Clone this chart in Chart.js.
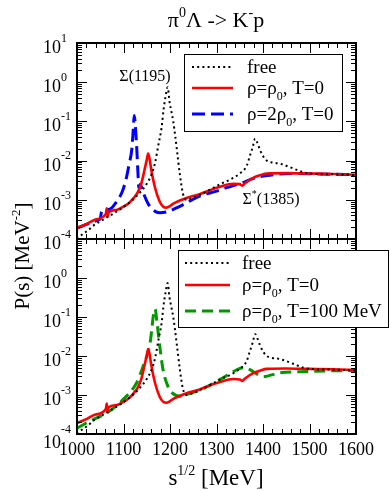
<!DOCTYPE html>
<html><head><meta charset="utf-8">
<script src="https://cdn.jsdelivr.net/npm/chart.js@4.4.1/dist/chart.umd.min.js"></script>
<style>
html,body{margin:0;padding:0;background:#fff;}
#wrap{position:relative;width:391px;height:491px;overflow:hidden;background:#fff;}
canvas{position:absolute;left:0;top:0;}
#probe{position:absolute;left:-500px;top:0;font-family:'Liberation Serif';}
</style></head><body>
<div id="wrap"><canvas id="c1" width="391" height="491"></canvas><canvas id="c2" width="391" height="491"></canvas></div>
<span id="probe">Σ ρ 1000</span>
<script>
// ---------- data ----------
const freeX = [1000,1013,1024,1034,1050,1077,1110,1135,1150,1161,1168,1175,1182,1186,1190,1195,1199,1203,1207,1211,1215,1221,1228,1236,1245,1265,1290,1308,1333,1350,1365,1372,1378,1383,1388,1394,1401,1408,1420,1437,1465,1487,1510,1550,1600];
const freeP = [1.0e-4,1.35e-4,1.66e-4,2.14e-4,2.82e-4,4.37e-4,7.94e-4,1.51e-3,2.57e-3,4.68e-3,8.91e-3,2.51e-2,7.08e-2,1.91e-1,3.98e-1,7.41e-1,3.16e-1,1.78e-1,1.0e-1,4.47e-2,1.82e-2,4.68e-3,1.41e-3,1.0e-3,1.07e-3,1.35e-3,1.91e-3,2.51e-3,3.47e-3,4.68e-3,7.41e-3,1.35e-2,2.24e-2,3.63e-2,2.82e-2,1.82e-2,1.26e-2,1.0e-2,8.91e-3,8.32e-3,6.31e-3,5.01e-3,4.57e-3,4.47e-3,4.27e-3];

const rhoX = [1000,1020,1040,1062,1064,1066,1068,1085,1099,1112,1122,1130,1138,1145,1150,1153,1156,1160,1168,1178,1185,1192,1200,1207,1230,1265,1307,1336,1350,1355,1362,1379,1395,1408,1450,1500,1550,1600];
const rhoP = [1.91e-4,2.40e-4,3.16e-4,4.37e-4,6.03e-4,3.72e-4,4.79e-4,5.50e-4,6.61e-4,8.32e-4,1.12e-3,1.51e-3,2.51e-3,5.62e-3,1.05e-2,1.51e-2,1.12e-2,5.62e-3,2.0e-3,8.91e-4,6.76e-4,6.31e-4,6.92e-4,7.94e-4,1.05e-3,1.41e-3,2.14e-3,2.57e-3,2.51e-3,2.29e-3,2.69e-3,3.63e-3,4.27e-3,4.68e-3,4.79e-3,4.68e-3,4.57e-3,4.37e-3];

const rho2X = [1000,1045,1050,1053,1070,1085,1097,1105,1112,1118,1121,1123,1126,1129,1131,1133,1136,1142,1153,1165,1178,1195,1215,1243,1265,1300,1322,1357,1380,1408,1465,1520,1600];
const rho2P = [1.91e-4,3.02e-4,3.31e-4,5.01e-4,5.75e-4,8.91e-4,1.58e-3,3.16e-3,7.94e-3,2.0e-2,6.31e-2,1.41e-1,6.31e-2,1.58e-2,5.01e-3,2.0e-3,2.51e-3,1.58e-3,7.94e-4,5.37e-4,4.68e-4,5.01e-4,6.31e-4,9.33e-4,1.26e-3,1.66e-3,2.04e-3,2.75e-3,3.55e-3,4.17e-3,4.68e-3,4.57e-3,4.37e-3];

const hotX = [1000,1020,1040,1064,1099,1128,1142,1153,1158,1161,1164,1168,1172,1178,1185,1196,1204,1221,1240,1265,1290,1314,1336,1357,1372,1385,1400,1437,1495,1550,1600];
const hotP = [1.41e-4,1.91e-4,2.51e-4,3.47e-4,7.59e-4,2.04e-3,5.37e-3,1.29e-2,2.51e-2,5.01e-2,1.05e-1,1.58e-1,7.24e-2,1.78e-2,4.47e-3,1.62e-3,1.15e-3,9.33e-4,1.07e-3,1.35e-3,1.91e-3,2.75e-3,3.98e-3,5.01e-3,4.47e-3,3.55e-3,2.95e-3,3.72e-3,3.98e-3,4.17e-3,4.27e-3];

const xTickValues = [1000,1100,1200,1300,1400,1500,1600];
const yTickValues = [1e-4,1e-3,1e-2,1e-1,1,10];
const yTickLabels = ['10^{-4}','10^{-3}','10^{-2}','10^{-1}','10^{0}','10^{1}'];

const titleText = 'π^{0}Λ -> K^{-}p';
const xTitle = 's^{1/2} [MeV]';
const yTitle = 'P(s) [MeV^{-2}]';
const labelFree = 'free';
const labelRho = 'ρ=ρ_{0}, T=0';
const labelRho2 = 'ρ=2ρ_{0}, T=0';
const labelHot = 'ρ=ρ_{0}, T=100 MeV';
const peak1 = 'Σ(1195)';
const peak2 = 'Σ^{*}(1385)';

// ---------- helpers ----------
const SERIF = "'Liberation Serif', 'Times New Roman', Times, serif";
const F = px => 'normal normal 400 ' + px + 'px ' + SERIF;
function parseRich(s){
  const parts=[]; const re=/([_^])\{([^}]*)\}/g; let last=0, m;
  while((m=re.exec(s))){ if(m.index>last) parts.push({t:s.slice(last,m.index),k:'n'}); parts.push({t:m[2],k:m[1]==='^'?'sup':'sub'}); last=re.lastIndex; }
  if(last<s.length) parts.push({t:s.slice(last),k:'n'});
  return parts;
}
function drawRich(ctx, s, x, y, align, base, supScale, supRaise){
  const parts=parseRich(s);
  const ss = supScale||0.65, sr = supRaise===undefined?0.42:supRaise;
  let w=0;
  parts.forEach(p=>{p.size = p.k==='n'?base:Math.round(base*ss); ctx.font=F(p.size); p.w=ctx.measureText(p.t).width; w+=p.w;});
  let cx = align==='center'? x-w/2 : align==='right'? x-w : x;
  ctx.textAlign='left'; ctx.textBaseline='alphabetic'; ctx.fillStyle='#000';
  parts.forEach(p=>{ctx.font=F(p.size); const dy = p.k==='sup'? -base*sr : p.k==='sub'? base*0.3 : 0; ctx.fillText(p.t, cx, y+dy); cx+=p.w;});
  return w;
}
const pts = (xs, ys) => xs.map((x,i)=>({x, y: ys[i]}));

function makeDS(label, xs, ys, color, width, dash){
  return {label, data: pts(xs,ys), borderColor: color, borderWidth: width, borderDash: dash,
    borderCapStyle:'butt', borderJoinStyle:'round', pointRadius:0, fill:false,
    cubicInterpolationMode:'monotone', clip: 0};
}

function frameAndTicks(chart, showXLabels, skipTopYLabel){
  const {ctx, chartArea:a, scales:{x,y}} = chart;
  ctx.save();
  ctx.strokeStyle='#000'; ctx.lineWidth=1;
  const MAJ=10, MIN=5;
  ctx.beginPath();
  for(let i=0;i<xTickValues.length;i++){
    const v=xTickValues[i]; const px=Math.round(x.getPixelForValue(v))+0.5;
    ctx.moveTo(px,a.top); ctx.lineTo(px,a.top+MAJ); ctx.moveTo(px,a.bottom); ctx.lineTo(px,a.bottom-MAJ);
    if(i<xTickValues.length-1){
      for(let k=1;k<5;k++){ const q=Math.round(x.getPixelForValue(v+k*(xTickValues[i+1]-v)/5))+0.5;
        ctx.moveTo(q,a.top); ctx.lineTo(q,a.top+MIN); ctx.moveTo(q,a.bottom); ctx.lineTo(q,a.bottom-MIN); }
    }
  }
  for(let i=0;i<yTickValues.length;i++){
    const v=yTickValues[i]; const py=Math.round(y.getPixelForValue(v))+0.5;
    ctx.moveTo(a.left,py); ctx.lineTo(a.left+MAJ,py); ctx.moveTo(a.right,py); ctx.lineTo(a.right-MAJ,py);
    if(i<yTickValues.length-1){
      for(let m=2;m<10;m++){ const q=Math.round(y.getPixelForValue(v*m))+0.5;
        ctx.moveTo(a.left,q); ctx.lineTo(a.left+MIN,q); ctx.moveTo(a.right,q); ctx.lineTo(a.right-MIN,q); }
    }
  }
  ctx.stroke();
  ctx.lineWidth=2;
  ctx.strokeRect(a.left, a.top, a.right-a.left, a.bottom-a.top);
  for(let i=0;i<yTickValues.length;i++){
    if(skipTopYLabel && i===yTickValues.length-1) continue;
    const py=y.getPixelForValue(yTickValues[i]);
    const extra = (showXLabels && i===0) ? 4 : 0;
    drawRich(ctx, yTickLabels[i], 43, py+10+extra, 'left', 18, 0.65, 0.62+extra/18);
  }
  if(showXLabels){
    ctx.font=F(18); ctx.textAlign='center'; ctx.textBaseline='alphabetic'; ctx.fillStyle='#000';
    xTickValues.forEach(v=>{ ctx.fillText(String(v), x.getPixelForValue(v), 455); });
  }
  ctx.restore();
}

function drawLegend(chart, box, rows, lineX0, lineX1, textX){
  const ctx=chart.ctx;
  ctx.save();
  ctx.fillStyle='#fff'; ctx.fillRect(box[0],box[1],box[2]-box[0],box[3]-box[1]);
  ctx.strokeStyle='#000'; ctx.lineWidth=1;
  ctx.strokeRect(box[0]+0.5,box[1]+0.5,box[2]-box[0],box[3]-box[1]);
  chart.data.datasets.forEach((ds,i)=>{
    const yy=rows[i];
    ctx.strokeStyle=ds.borderColor; ctx.lineWidth=ds.borderWidth; ctx.setLineDash(ds.borderDash||[]); ctx.lineCap='butt';
    ctx.beginPath(); ctx.moveTo(lineX0,yy); ctx.lineTo(lineX1,yy); ctx.stroke();
    ctx.setLineDash([]);
    drawRich(ctx, ds.label, textX, yy+6, 'left', 19, 0.65, 0.3);
  });
  ctx.restore();
}

const common = (padTop,padBottom)=>({
  responsive:false, animation:false, devicePixelRatio:1,
  layout:{padding:{left:77,right:35,top:padTop,bottom:padBottom}},
  plugins:{legend:{display:false},tooltip:{enabled:false},title:{display:false}},
  scales:{ x:{type:'linear',min:1000,max:1600,display:false},
           y:{type:'logarithmic',min:1e-4,max:10,display:false} }
});

const DOT=[2,3.2], DASH_B=[13,6], DASH_G=[11,6];

function build(){
new Chart(document.getElementById('c1'), {
  type:'line',
  data:{datasets:[
    makeDS(labelFree, freeX, freeP, '#000', 2, DOT),
    makeDS(labelRho, rhoX, rhoP, '#ff0000', 2.6, []),
    makeDS(labelRho2, rho2X, rho2P, '#0000ff', 3, DASH_B)
  ]},
  options: common(43, 252),
  plugins:[{id:'top', afterDraw(chart){
    frameAndTicks(chart, false, false);
    drawLegend(chart, [184,54,342,131], [67,88,114], 192, 233, 247);
    const ctx=chart.ctx;
    drawRich(ctx, peak1, 145, 81, 'center', 16);
    drawRich(ctx, peak2, 271, 204, 'center', 16, 0.65, 0.45);
    drawRich(ctx, titleText, 216, 27, 'center', 22, 0.65, 0.45);
    ctx.save(); ctx.translate(29, 256); ctx.rotate(-Math.PI/2);
    drawRich(ctx, yTitle, 0, 0, 'center', 21, 0.6, 0.45);
    ctx.restore();
  }}]
});

new Chart(document.getElementById('c2'), {
  type:'line',
  data:{datasets:[
    makeDS(labelFree, freeX, freeP, '#000', 2, DOT),
    makeDS(labelRho, rhoX, rhoP, '#ff0000', 2.6, []),
    makeDS(labelHot, hotX, hotP, '#009a00', 3, DASH_G)
  ]},
  options: common(239, 57),
  plugins:[{id:'bot', afterDraw(chart){
    frameAndTicks(chart, true, true);
    drawLegend(chart, [178,250,388,327], [263,285,311], 185, 230, 242);
    drawRich(chart.ctx, xTitle, 216, 485, 'center', 23, 0.6, 0.45);
  }}]
});
}
if (document.fonts && document.fonts.load) {
  Promise.all([document.fonts.load("18px 'Liberation Serif'")]).then(build, build);
} else build();
</script>
</body></html>
